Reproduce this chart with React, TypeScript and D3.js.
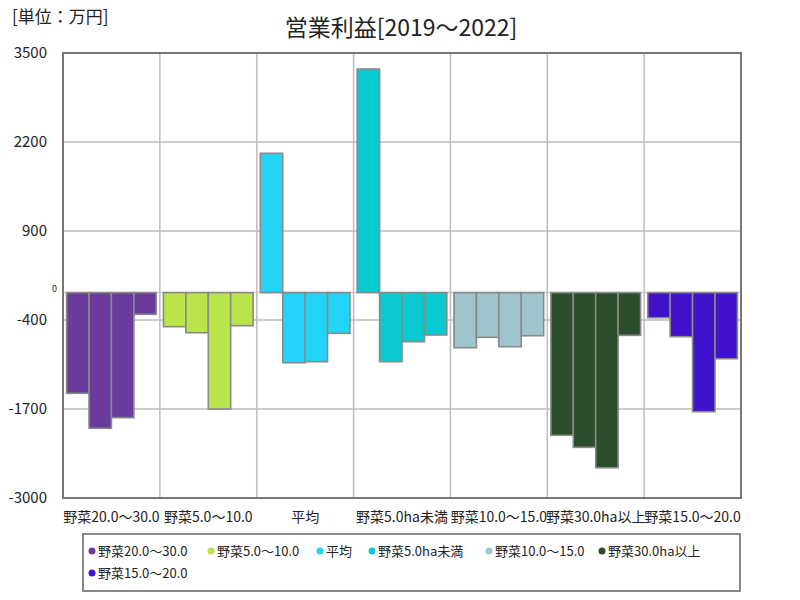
import React from "react";
import * as d3 from "d3";

const categories = [
  "野菜20.0～30.0",
  "野菜5.0～10.0",
  "平均",
  "野菜5.0ha未満",
  "野菜10.0～15.0",
  "野菜30.0ha以上",
  "野菜15.0～20.0",
];
const years = ["2019", "2020", "2021", "2022"];
const v20to30 = [-1471, -1982, -1827, -317];
const v5to10 = [-498, -586, -1700, -483];
const vAvg = [2035, -1024, -1009, -595];
const vUnder5 = [3266, -1009, -717, -619];
const v10to15 = [-805, -653, -790, -630];
const v30plus = [-2084, -2260, -2558, -624];
const v15to20 = [-367, -644, -1740, -966];
const seriesValues = [v20to30, v5to10, vAvg, vUnder5, v10to15, v30plus, v15to20];
const colors = ["#6a3a9c", "#b9e44a", "#22d4f8", "#0bc9d0", "#9fc4cc", "#2a4d2b", "#4012cc"];
const yTicks = [3500, 2200, 900, -400, -1700, -3000];
const legendX = [92, 211, 320, 372, 489, 602, 92];
const legendRow = [0, 0, 0, 0, 0, 0, 1];

const FONT = "'Noto Sans CJK JP', 'Noto Sans', sans-serif";

export default function App() {
  const left = 63, right = 741, top = 53, bottom = 498;
  const x = d3.scaleBand<string>().domain(categories).range([left, right]).paddingInner(0).paddingOuter(0);
  const xi = d3.scaleBand<string>().domain(years).range([0, x.bandwidth()]).paddingOuter(0.16).paddingInner(0);
  const y = d3.scaleLinear().domain([-3000, 3500]).range([bottom, top]);
  const y0 = y(0);

  return (
    <svg width={800} height={600} style={{ position: "absolute", left: 0, top: 0, background: "#fff" }} fontFamily={FONT}>
      <rect x={0} y={0} width={800} height={600} fill="#fff" />
      <text x={12} y={23} fontSize={17} fill="#222">[単位：万円]</text>
      <text x={401} y={36} fontSize={23} textAnchor="middle" fill="#222">営業利益[2019～2022]</text>

      {/* grid */}
      {yTicks.map((t) => (
        <line key={"g" + t} x1={left} x2={right} y1={y(t)} y2={y(t)} stroke="#bdbdbd" strokeWidth={1.5} />
      ))}
      <line x1={left} x2={right} y1={y0} y2={y0} stroke="#cfcfcf" strokeWidth={1.5} />
      {categories.map((c, i) =>
        i > 0 ? (
          <line key={"vg" + c} x1={x(c)!} x2={x(c)!} y1={top} y2={bottom} stroke="#bdbdbd" strokeWidth={1.5} />
        ) : null
      )}

      {/* bars */}
      {categories.map((c, ci) =>
        years.map((yr, yi) => {
          const v = seriesValues[ci][yi];
          const bx = x(c)! + xi(yr)!;
          const y1 = Math.min(y(v), y0);
          const h = Math.abs(y(v) - y0);
          return (
            <rect
              key={c + yr}
              x={bx}
              y={y1}
              width={xi.bandwidth()}
              height={h}
              fill={colors[ci]}
              stroke="#8a8a8a"
              strokeWidth={1.6}
            />
          );
        })
      )}

      {/* frame */}
      <rect x={left} y={top} width={right - left} height={bottom - top} fill="none" stroke="#777" strokeWidth={2} />

      {/* y labels */}
      {yTicks.map((t) => (
        <text key={"yl" + t} x={47} y={y(t) + 5} fontSize={15} textAnchor="end" fill="#222">
          {t}
        </text>
      ))}
      <text x={57} y={y0 - 1} fontSize={9} textAnchor="end" fill="#222">0</text>

      {/* x labels */}
      {categories.map((c) => (
        <text key={"xl" + c} x={x(c)! + x.bandwidth() / 2} y={522} fontSize={14} textAnchor="middle" fill="#222">
          {c}
        </text>
      ))}

      {/* legend */}
      <rect x={83} y={534} width={657} height={57} fill="#fff" stroke="#888" strokeWidth={2} />
      {categories.map((c, i) => (
        <g key={"lg" + c} transform={`translate(${legendX[i]},${551 + legendRow[i] * 22})`}>
          <circle cx={0} cy={0} r={3.5} fill={colors[i]} />
          <text x={6} y={5} fontSize={13} fill="#222">{c}</text>
        </g>
      ))}
    </svg>
  );
}
